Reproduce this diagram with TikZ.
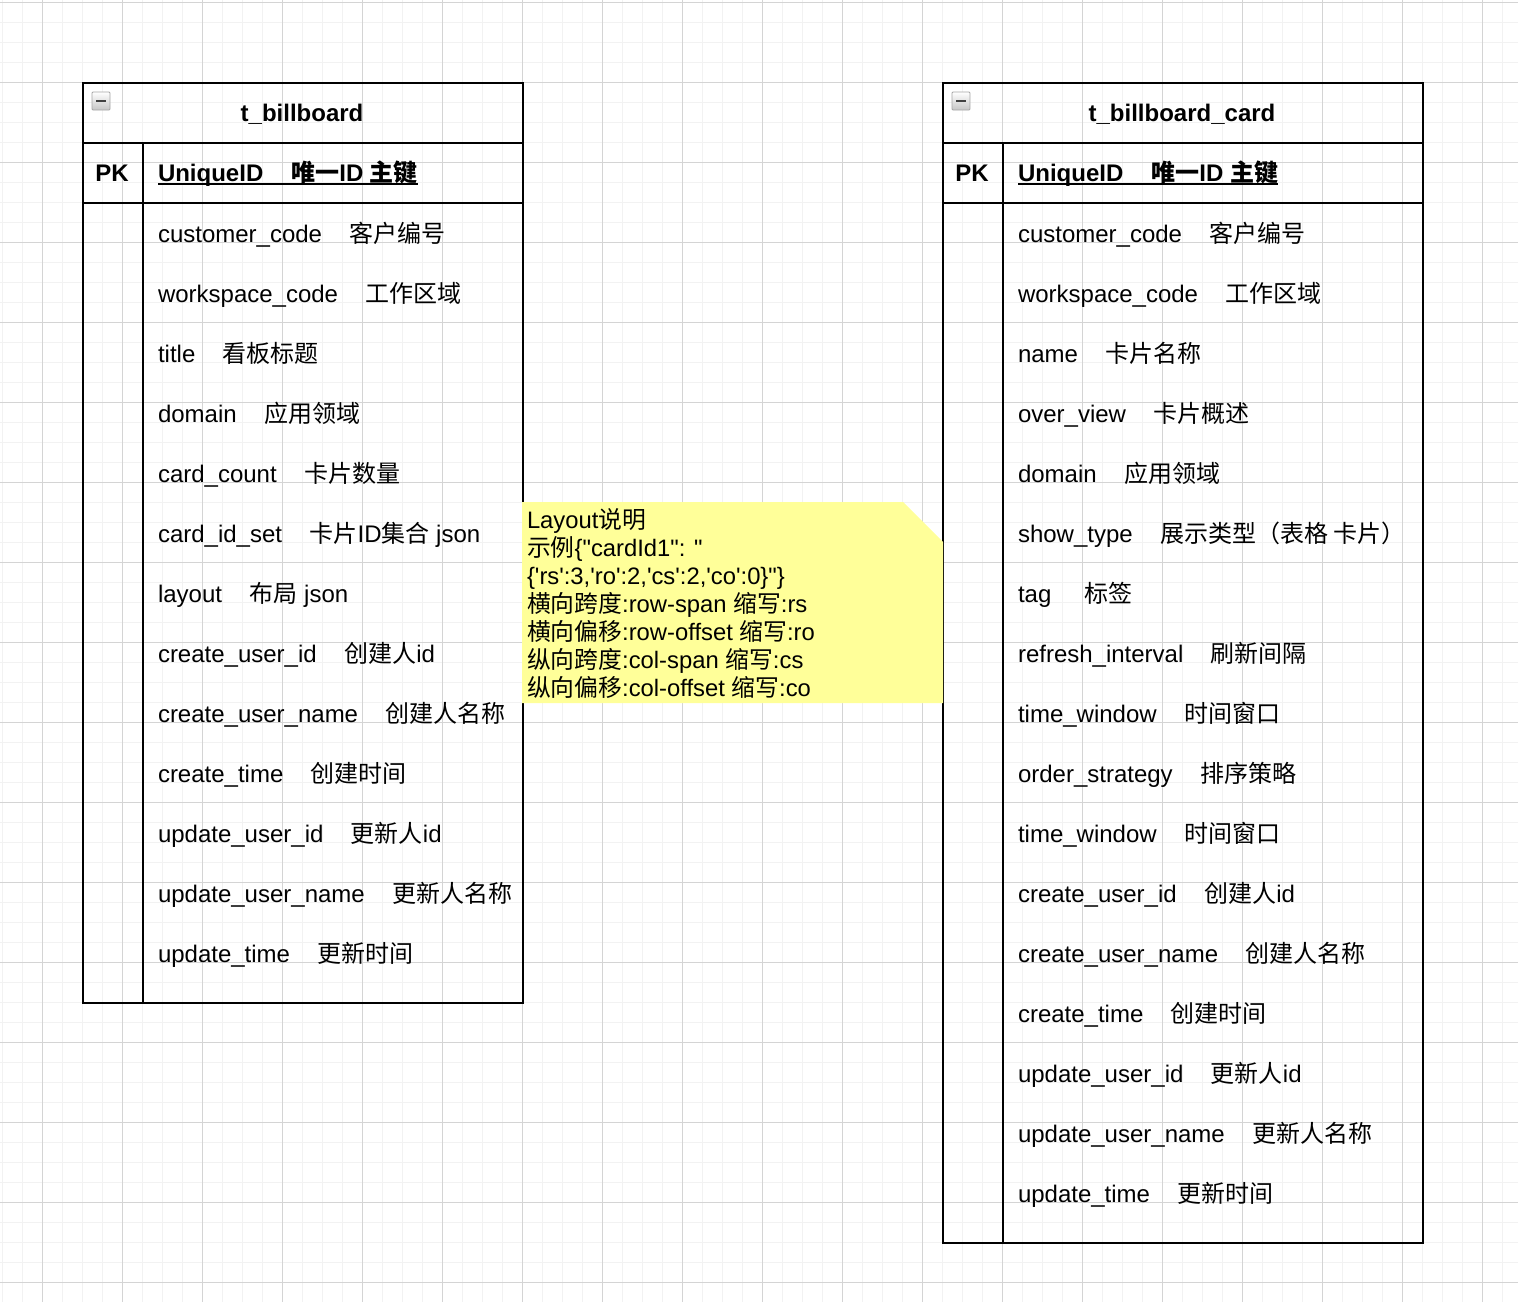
\documentclass[tikz,border=0pt]{standalone}
\usepackage{fontspec}
\setmainfont{Liberation Sans}[Ligatures=TeXOff]
\newfontfamily\cjk{Noto Sans CJK SC}
\definecolor{gminor}{RGB}{242,242,242}
\definecolor{gmajor}{RGB}{212,212,212}
\definecolor{noteyellow}{RGB}{255,255,153}
\newcommand\zh[1]{{\cjk #1}}
\newcommand\gp{\hspace{27.5pt}}
\tikzset{
  fld/.style={anchor=base west, inner sep=0pt, outer sep=0pt},
  tbl/.style={draw=black, line width=2pt},
  notetxt/.style={anchor=base west, inner sep=0pt, outer sep=0pt, font=\fontsize{23.8}{28}\selectfont},
}
\begin{document}
\begin{tikzpicture}[x=1pt,y=-1pt, every node/.style={font=\fontsize{24}{28}\selectfont}]
\useasboundingbox (0,0) rectangle (1518,1302);
\fill[white] (0,0) rectangle (1518,1302);
% grid
\foreach \x in {2.5,22.5,...,1517} \draw[gminor, line width=1pt] (\x,0) -- (\x,1302);
\foreach \y in {2,22,...,1301} \draw[gminor, line width=1pt] (0,\y) -- (1518,\y);
\foreach \x in {42.5,122.5,...,1517} \draw[gmajor, line width=1pt] (\x,0) -- (\x,1302);
\foreach \y in {2,82,...,1301} \draw[gmajor, line width=1pt] (0,\y) -- (1518,\y);

% table 1 frame
\draw[tbl] (83,83) rectangle (523,1003);
\draw[tbl] (83,143) -- (523,143);
\draw[tbl] (83,203) -- (523,203);
\draw[tbl] (143,143) -- (143,1003);
% table 2 frame
\draw[tbl] (943,83) rectangle (1423,1243);
\draw[tbl] (943,143) -- (1423,143);
\draw[tbl] (943,203) -- (1423,203);
\draw[tbl] (1003,143) -- (1003,1243);

% collapse icons
\foreach \ox in {0,860}{
  \shade[top color=white, bottom color=gray!45, draw=gray!70, line width=0.8pt, rounded corners=1pt]
    (92+\ox,92) rectangle (110+\ox,110);
  \fill[black!75] (96+\ox,99.8) rectangle (106+\ox,102.4);
}

% titles
\node[anchor=base, inner sep=0pt, font=\fontsize{24}{28}\selectfont\bfseries] (title1) at (302,121) {t\_billboard};
\node[anchor=base, inner sep=0pt, font=\fontsize{24}{28}\selectfont\bfseries] (title2) at (1182,121) {t\_billboard\_card};
\node[anchor=base, inner sep=0pt, font=\fontsize{24}{28}\selectfont\bfseries] (pkA) at (112,181) {PK};
\node[anchor=base, inner sep=0pt, font=\fontsize{24}{28}\selectfont\bfseries] (pkB) at (972,181) {PK};
\node[fld, font=\fontsize{24}{28}\selectfont\bfseries] (uidA) at (158,181) {UniqueID\hspace{28pt}\zh{唯一}ID \zh{主键}};
\node[fld, font=\fontsize{24}{28}\selectfont\bfseries] (uidB) at (1018,181) {UniqueID\hspace{28pt}\zh{唯一}ID \zh{主键}};
\draw[line width=1.6pt] ([yshift=-3pt]uidA.base west) -- ([yshift=-3pt]uidA.base east);
\draw[line width=1.6pt] ([yshift=-3pt]uidB.base west) -- ([yshift=-3pt]uidB.base east);

% table 1 fields
\node[fld] (a0) at (158,242) {customer\_code\gp\zh{客户编号}};
\node[fld] (a1) at (158,302) {workspace\_code\gp\zh{工作区域}};
\node[fld] (a2) at (158,362) {title\gp\zh{看板标题}};
\node[fld] (a3) at (158,422) {domain\gp\zh{应用领域}};
\node[fld] (a4) at (158,482) {card\_count\gp\zh{卡片数量}};
\node[fld] (a5) at (158,542) {card\_id\_set\gp\zh{卡片}ID\zh{集合} json};
\node[fld] (a6) at (158,602) {layout\gp\zh{布局} json};
\node[fld] (a7) at (158,662) {create\_user\_id\gp\zh{创建人}id};
\node[fld] (a8) at (158,722) {create\_user\_name\gp\zh{创建人名称}};
\node[fld] (a9) at (158,782) {create\_time\gp\zh{创建时间}};
\node[fld] (a10) at (158,842) {update\_user\_id\gp\zh{更新人}id};
\node[fld] (a11) at (158,902) {update\_user\_name\gp\zh{更新人名称}};
\node[fld] (a12) at (158,962) {update\_time\gp\zh{更新时间}};

% table 2 fields
\node[fld] (b0) at (1018,242) {customer\_code\gp\zh{客户编号}};
\node[fld] (b1) at (1018,302) {workspace\_code\gp\zh{工作区域}};
\node[fld] (b2) at (1018,362) {name\gp\zh{卡片名称}};
\node[fld] (b3) at (1018,422) {over\_view\gp\zh{卡片概述}};
\node[fld] (b4) at (1018,482) {domain\gp\zh{应用领域}};
\node[fld] (b5) at (1018,542) {show\_type\gp\zh{展示类型（表格 卡片）}};
\node[fld] (b6) at (1018,602) {tag\hspace{33pt}\zh{标签}};
\node[fld] (b7) at (1018,662) {refresh\_interval\gp\zh{刷新间隔}};
\node[fld] (b8) at (1018,722) {time\_window\gp\zh{时间窗口}};
\node[fld] (b9) at (1018,782) {order\_strategy\gp\zh{排序策略}};
\node[fld] (b10) at (1018,842) {time\_window\gp\zh{时间窗口}};
\node[fld] (b11) at (1018,902) {create\_user\_id\gp\zh{创建人}id};
\node[fld] (b12) at (1018,962) {create\_user\_name\gp\zh{创建人名称}};
\node[fld] (b13) at (1018,1022) {create\_time\gp\zh{创建时间}};
\node[fld] (b14) at (1018,1082) {update\_user\_id\gp\zh{更新人}id};
\node[fld] (b15) at (1018,1142) {update\_user\_name\gp\zh{更新人名称}};
\node[fld] (b16) at (1018,1202) {update\_time\gp\zh{更新时间}};

% note
\fill[noteyellow] (522,502) -- (903,502) -- (943,542) -- (943,703) -- (522,703) -- cycle;
\node[notetxt] (n1) at (527,528) {Layout\zh{说明}};
\node[notetxt] (n2) at (527,556) {\zh{示例}\{"cardId1": "};
\node[notetxt] (n3) at (527,584) {\{'rs':3,'ro':2,'cs':2,'co':0\}"\}};
\node[notetxt] (n4) at (527,612) {\zh{横向跨度}:row-span \zh{缩写}:rs};
\node[notetxt] (n5) at (527,640) {\zh{横向偏移}:row-offset \zh{缩写}:ro};
\node[notetxt] (n6) at (527,668) {\zh{纵向跨度}:col-span \zh{缩写}:cs};
\node[notetxt] (n7) at (527,696) {\zh{纵向偏移}:col-offset \zh{缩写}:co};
\end{tikzpicture}
\end{document}
